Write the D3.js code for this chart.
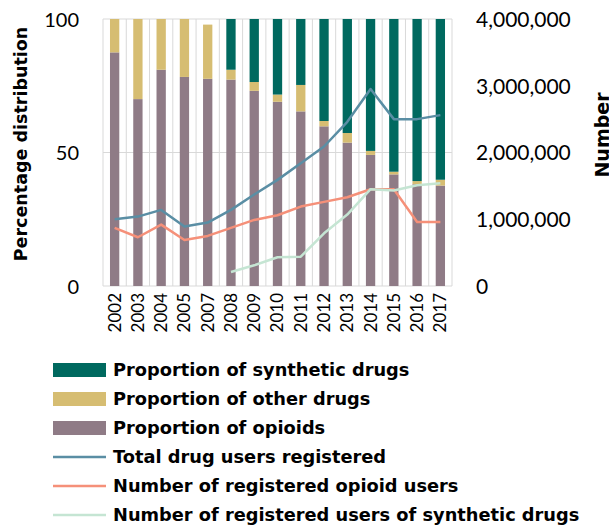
<!DOCTYPE html>
<html>
<head>
<meta charset="utf-8">
<script src="https://cdn.jsdelivr.net/npm/d3@7"></script>
<style>
body { margin: 0; background: #fff; }
text { font-family: Lato, "Open Sans", sans-serif; fill: #000; }
.bold { font-family: "DejaVu Sans", Lato, sans-serif; font-weight: bold; }
</style>
</head>
<body>
<div id="chart"></div>
<script>
// chart data
var years = ["2002","2003","2004","2005","2007","2008","2009","2010","2011","2012","2013","2014","2015","2016","2017"];
var opioidPct    = [87.5, 70.0, 81.0, 78.3, 77.6, 77.3, 73.1, 69.0, 65.4, 59.8, 53.7, 49.1, 41.8, 38.1, 37.6];
var otherPct     = [12.5, 30.0, 19.0, 21.7, 20.3, 3.7, 3.3, 2.7, 9.9, 2.0, 3.6, 1.5, 1.0, 1.2, 2.2];
var syntheticPct = [0, 0, 0, 0, 0, 19.0, 23.6, 28.3, 24.7, 38.2, 42.7, 49.4, 57.2, 60.7, 60.2];
var totalUsers   = [1000000, 1040000, 1140000, 890000, 950000, 1140000, 1370000, 1590000, 1840000, 2090000, 2460000, 2950000, 2500000, 2500000, 2560000];
var opioidUsers  = [870000, 730000, 920000, 690000, 750000, 870000, 990000, 1060000, 1190000, 1260000, 1330000, 1450000, 1450000, 960000, 960000];
var synthUsers   = [null, null, null, null, null, 210000, 310000, 430000, 440000, 790000, 1070000, 1450000, 1430000, 1510000, 1540000];
var leftTicks = [0, 50, 100];
var rightTicks = [0, 1000000, 2000000, 3000000, 4000000];

var W = 609, H = 528;
var plot = {left: 103, right: 452, top: 19, bottom: 286};

var svg = d3.select("#chart").append("svg").attr("width", W).attr("height", H);

var x = d3.scaleBand().domain(years).range([plot.left, plot.right]).paddingInner(0.6).paddingOuter(0.3);
var y = d3.scaleLinear().domain([0, 100]).range([plot.bottom, plot.top]);
var y2 = d3.scaleLinear().domain([0, 4000000]).range([plot.bottom, plot.top]);

var grid = "#d9d9d9";

// horizontal gridlines
svg.append("g").selectAll("line").data(leftTicks).enter().append("line")
    .attr("x1", plot.left).attr("x2", plot.right)
    .attr("y1", d => y(d)).attr("y2", d => y(d))
    .attr("stroke", grid).attr("stroke-width", 1);

// vertical gridlines at band edges
var step = x.step();
var edges = years.map(d => x(d) - (step - x.bandwidth()) / 2);
edges.push(plot.right);
svg.append("g").selectAll("line").data(edges).enter().append("line")
    .attr("x1", d => d).attr("x2", d => d)
    .attr("y1", plot.top).attr("y2", plot.bottom)
    .attr("stroke", grid).attr("stroke-width", 1);

// stacked bars
var rows = years.map((yr, i) => ({year: yr, opioid: opioidPct[i], other: otherPct[i], synthetic: syntheticPct[i]}));
var keys = ["opioid", "other", "synthetic"];
var colors = {opioid: "#8f7b86", other: "#d6bd72", synthetic: "#00695f"};
var stack = d3.stack().keys(keys)(rows);

svg.append("g").selectAll("g").data(stack).enter().append("g")
    .attr("fill", d => colors[d.key])
    .selectAll("rect").data(d => d).enter().append("rect")
    .attr("x", d => x(d.data.year))
    .attr("width", x.bandwidth())
    .attr("y", d => y(d[1]))
    .attr("height", d => y(d[0]) - y(d[1]));

// lines on secondary axis
var lineGen = d3.line()
    .defined(d => d != null)
    .x((d, i) => x(years[i]) + x.bandwidth() / 2)
    .y(d => y2(d));

var series = [
    {vals: totalUsers, color: "#5a8ea4"},
    {vals: opioidUsers, color: "#f59079"},
    {vals: synthUsers, color: "#c5e5d3"}
];
series.forEach(function (s) {
    svg.append("path").datum(s.vals)
        .attr("d", lineGen)
        .attr("fill", "none")
        .attr("stroke", s.color)
        .attr("stroke-width", 2.5)
        .attr("stroke-linejoin", "round");
});

// left axis
var leftAxis = svg.append("g").attr("transform", "translate(" + plot.left + ",0)")
    .call(d3.axisLeft(y).tickValues(leftTicks).tickSize(0).tickPadding(24));
leftAxis.select(".domain").remove();
leftAxis.selectAll("text").style("font-size", "20px").attr("dy", "0.35em");

// right axis
var rightAxis = svg.append("g").attr("transform", "translate(" + plot.right + ",0)")
    .call(d3.axisRight(y2).tickValues(rightTicks).tickSize(0).tickPadding(24).tickFormat(d3.format(",")));
rightAxis.select(".domain").remove();
rightAxis.selectAll("text").style("font-size", "21px").attr("dy", "0.35em");

// bottom axis, years rotated
var bottomAxis = svg.append("g").attr("transform", "translate(0," + plot.bottom + ")")
    .call(d3.axisBottom(x).tickSize(0));
bottomAxis.select(".domain").remove();
bottomAxis.selectAll("text")
    .style("font-size", "17px")
    .attr("text-anchor", "end")
    .attr("transform", "rotate(-90)")
    .attr("x", -7).attr("y", 0).attr("dy", "0.35em");

// axis titles
svg.append("text").attr("class", "bold")
    .attr("transform", "translate(27,144) rotate(-90)")
    .attr("text-anchor", "middle")
    .style("font-size", "17.5px")
    .text("Percentage distribution");

// right title is cut by the page edge, as in the source picture
svg.append("text").attr("class", "bold")
    .attr("transform", "translate(609,135) rotate(-90)")
    .attr("text-anchor", "middle")
    .style("font-size", "19px")
    .text("Number");

// legend
var legendItems = [
    {label: "Proportion of synthetic drugs", color: colors.synthetic, type: "rect"},
    {label: "Proportion of other drugs", color: colors.other, type: "rect"},
    {label: "Proportion of opioids", color: colors.opioid, type: "rect"},
    {label: "Total drug users registered", color: "#5a8ea4", type: "line"},
    {label: "Number of registered opioid users", color: "#f59079", type: "line"},
    {label: "Number of registered users of synthetic drugs", color: "#c5e5d3", type: "line"}
];
var legend = svg.append("g").selectAll("g").data(legendItems).enter().append("g")
    .attr("transform", (d, i) => "translate(53," + (370 + i * 29) + ")");
legend.filter(d => d.type == "rect").append("rect")
    .attr("x", 0).attr("y", -7).attr("width", 53).attr("height", 14)
    .attr("fill", d => d.color);
legend.filter(d => d.type == "line").append("line")
    .attr("x1", 0).attr("x2", 53).attr("y1", 0).attr("y2", 0)
    .attr("stroke", d => d.color).attr("stroke-width", 2.5);
legend.append("text").attr("class", "bold")
    .attr("x", 60).attr("y", 0).attr("dy", "0.36em")
    .style("font-size", "17.8px")
    .text(d => d.label);
</script>
</body>
</html>
